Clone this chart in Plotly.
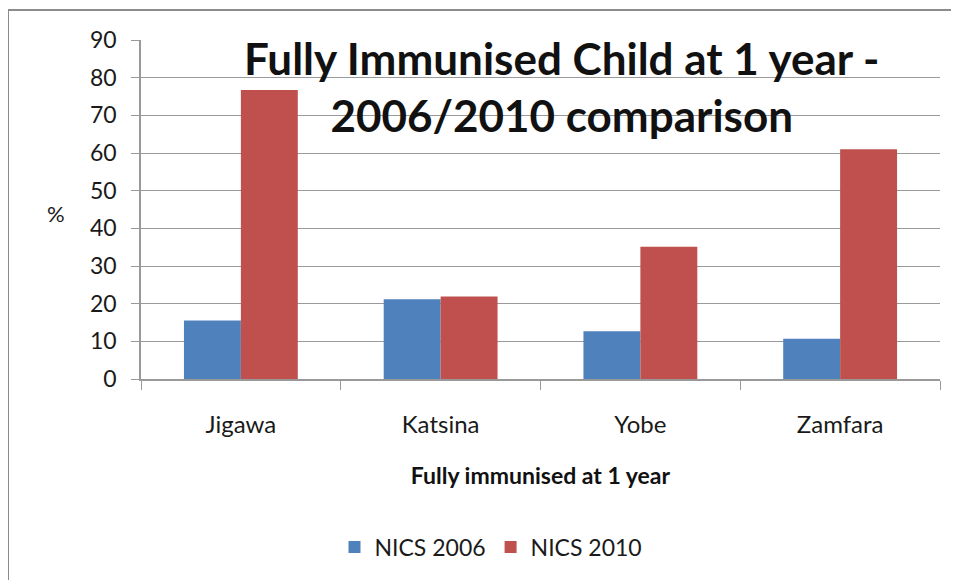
import plotly.graph_objects as go

states = ["Jigawa", "Katsina", "Yobe", "Zamfara"]
nics_2006 = [15.5, 21.2, 12.7, 10.7]
nics_2010 = [76.7, 21.9, 35.1, 61.0]
y_ticks = [0, 10, 20, 30, 40, 50, 60, 70, 80, 90]

# page body has an 8px margin; work in screen pixels and convert
OFF = 8
W, H = 959 - OFF, 580 - OFF
PL, PR, PT, PB = 141, 940, 40, 379  # plot area in screen px
L, T = PL - OFF, PT - OFF
R = W - (PR - OFF)
B = H - (PB - OFF)
pw = W - L - R
ph = H - T - B

def px_x(x):
    return (x - PL) / pw

def px_y(y):
    return (PB - y) / ph

font = "Lato, 'Open Sans', sans-serif"
txt = "#1a1a1a"

fig = go.Figure()
fig.add_trace(go.Bar(x=states, y=nics_2006, name="NICS 2006",
                     marker=dict(color="#4f81bd", line=dict(width=0))))
fig.add_trace(go.Bar(x=states, y=nics_2010, name="NICS 2010",
                     marker=dict(color="#c0504d", line=dict(width=0))))

fig.update_layout(
    width=W, height=H,
    margin=dict(l=L, r=R, t=T, b=B),
    paper_bgcolor="white", plot_bgcolor="white",
    barmode="group", bargap=0.43, bargroupgap=0,
    font=dict(family=font, color=txt),
    showlegend=True,
    legend=dict(orientation="h", x=px_x(491), xanchor="center", y=px_y(547), yanchor="middle",
                font=dict(size=23, family=font, color=txt), traceorder="normal",
                itemwidth=30),
    xaxis=dict(
        type="category", showline=True, linecolor="#999999", linewidth=1.5,
        ticks="outside", tickson="boundaries", ticklen=9, tickcolor="#999999",
        tickfont=dict(size=24, family=font, color=txt),
        ticklabelstandoff=23,
        showgrid=False, range=[-0.5, 3.5],
        title=dict(text="<b>Fully immunised at 1 year</b>", font=dict(size=23, family=font, color="#111111"),
                   standoff=31),
    ),
    yaxis=dict(
        range=[0, 90], tickvals=y_ticks, showline=True, linecolor="#999999", linewidth=1.5,
        ticks="outside", ticklen=8, tickcolor="#999999",
        ticklabelstandoff=10,
        showgrid=True, gridcolor="#9a9a9a", gridwidth=1.2,
        tickfont=dict(size=23, family=font, color=txt),
        zeroline=False,
    ),
    annotations=[
        dict(text="%", x=px_x(56), y=px_y(213), xref="paper", yref="paper",
             xanchor="center", yanchor="middle",
             showarrow=False, font=dict(size=22, family=font, color=txt)),
        dict(text="<b>Fully Immunised Child at 1 year -<br>2006/2010 comparison</b>",
             x=px_x(561), y=px_y(86), xref="paper", yref="paper", showarrow=False,
             xanchor="center", yanchor="middle",
             font=dict(size=44, family=font, color="#111111"), align="center"),
    ],
    shapes=[
        dict(type="line", xref="paper", yref="paper", x0=px_x(8), x1=px_x(975),
             y0=px_y(10), y1=px_y(10), line=dict(color="#8c8c8c", width=2)),
        dict(type="line", xref="paper", yref="paper", x0=px_x(8), x1=px_x(8),
             y0=px_y(10), y1=px_y(600), line=dict(color="#8c8c8c", width=2)),
    ],
)

fig.write_html("out.html")
